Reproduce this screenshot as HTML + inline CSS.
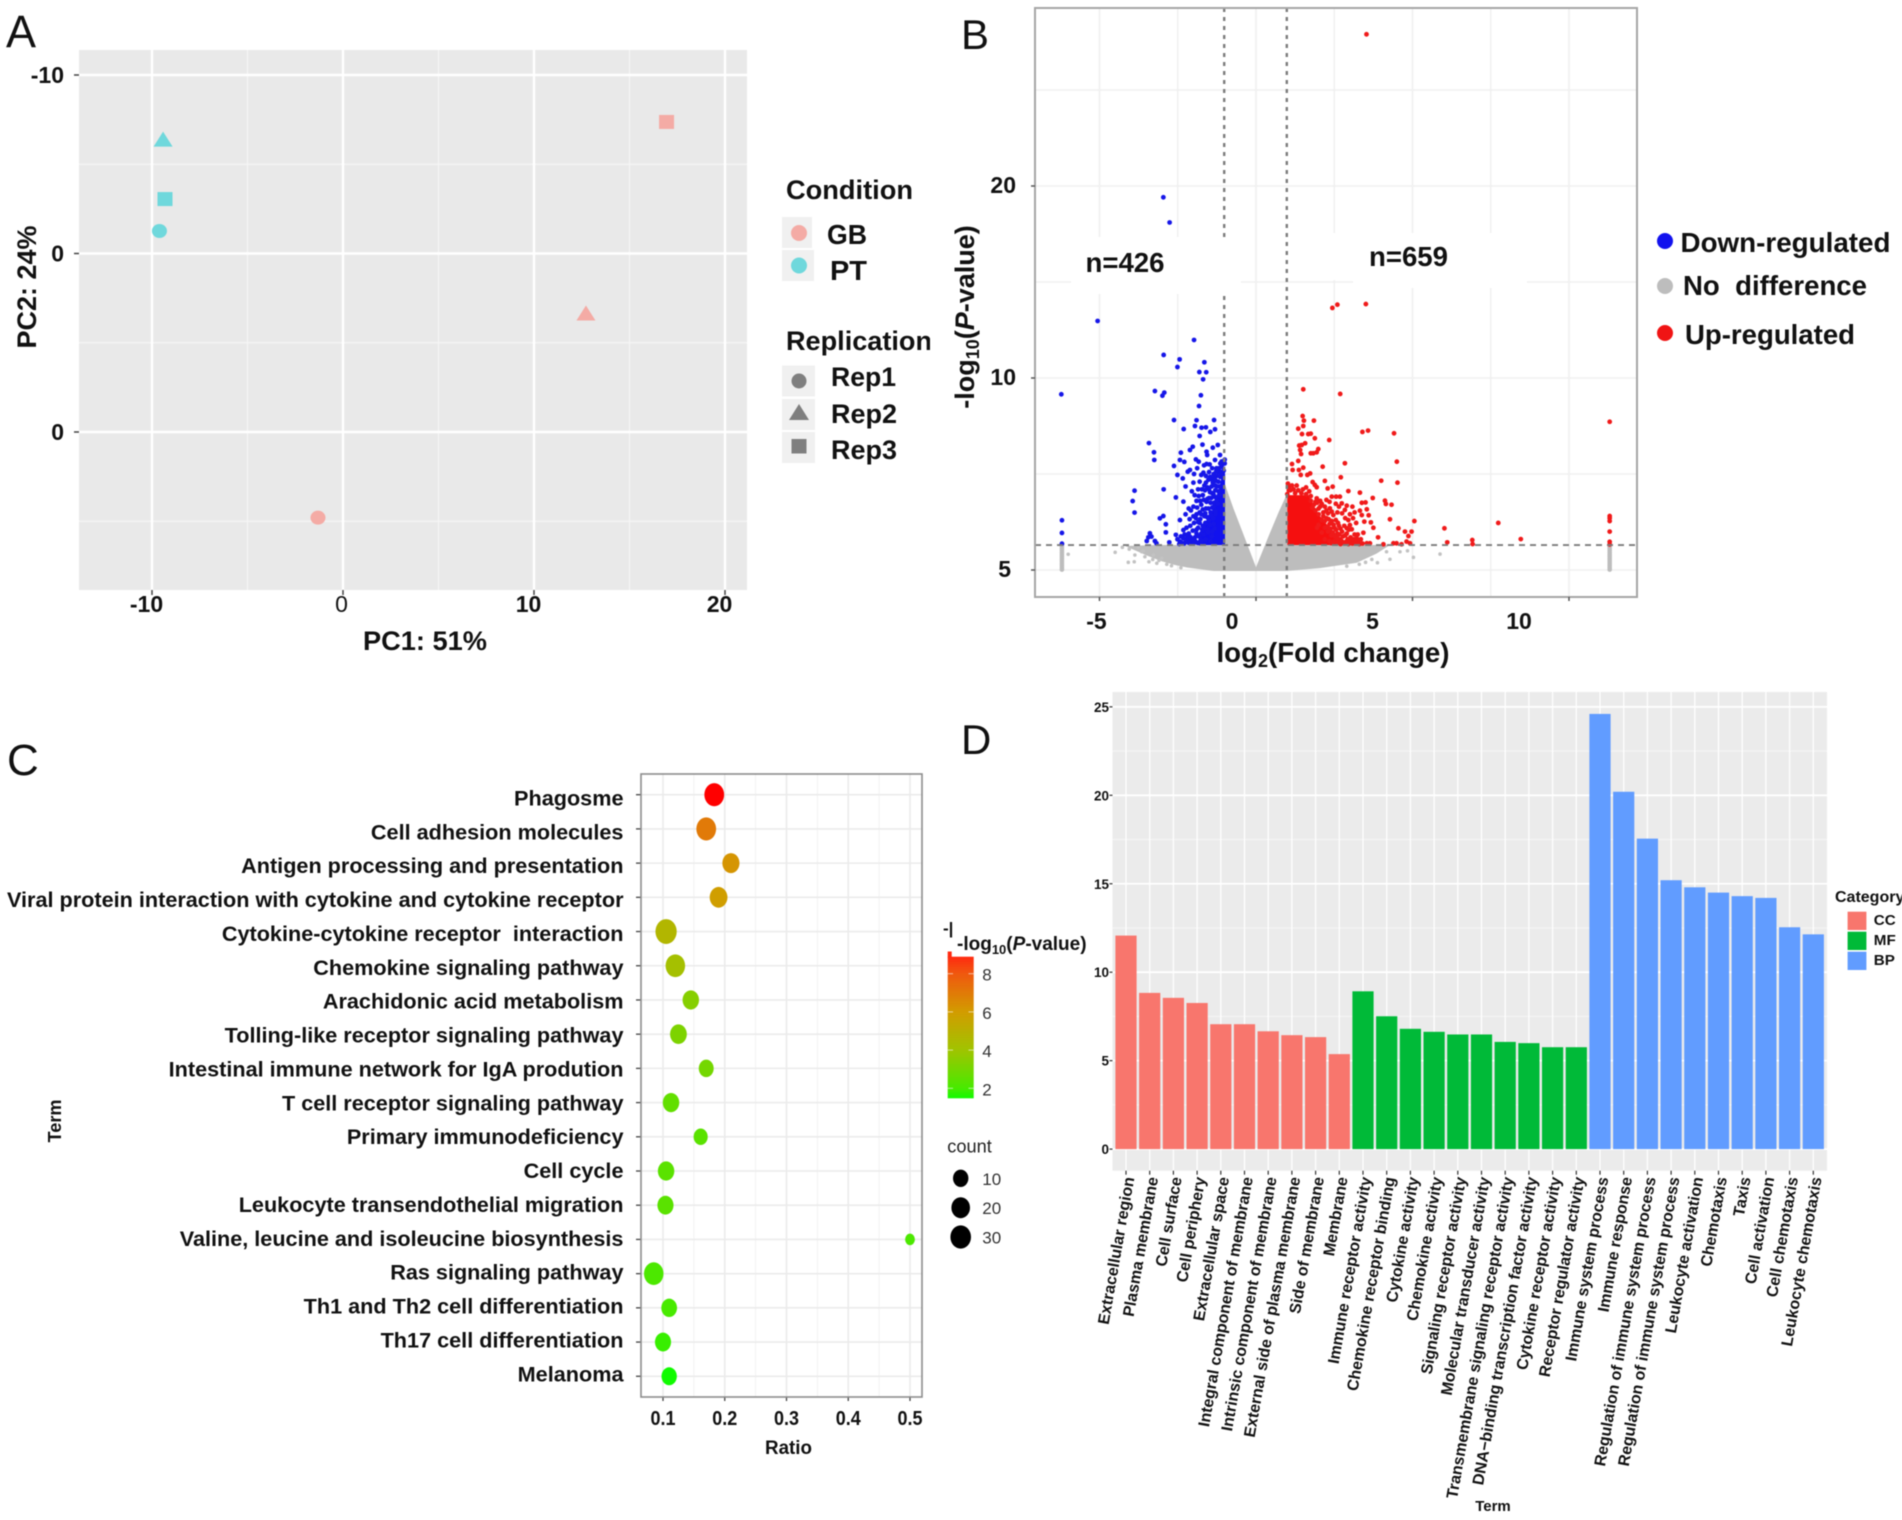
<!DOCTYPE html>
<html lang="en">
<head>
<meta charset="utf-8">
<title>Four panel transcriptomics figure</title>
<style>
html,body{margin:0;padding:0;background:#fff;}
svg{display:block;font-family:"Liberation Sans",sans-serif;filter:blur(0.55px);}
text{fill:#111;}
.b{font-weight:700;}
</style>
</head>
<body>
<svg id="fig" xmlns="http://www.w3.org/2000/svg" width="1902" height="1520" viewBox="0 0 1902 1520">
<defs>
<linearGradient id="cbar" x1="0" y1="0" x2="0" y2="1">
<stop offset="0" stop-color="#ff2a10"/><stop offset=".12" stop-color="#f0580f"/><stop offset=".39" stop-color="#d29c00"/><stop offset=".66" stop-color="#a0c400"/><stop offset=".93" stop-color="#48ea00"/><stop offset="1" stop-color="#10fb00"/>
</linearGradient>
</defs>
<rect width="1902" height="1520" fill="#fff"/>

<text x="6" y="47" font-size="45">A</text>
<text x="961" y="49" font-size="42">B</text>
<text x="7" y="775" font-size="44">C</text>
<text x="961" y="754" font-size="42">D</text>

<!-- Panel A -->
<g id="panelA"></g>
<g>
<text class="b" x="425" y="650" font-size="27" text-anchor="middle" textLength="124" lengthAdjust="spacingAndGlyphs">PC1: 51%</text>
<text class="b" transform="translate(36,287) rotate(-90)" font-size="27" text-anchor="middle" textLength="123" lengthAdjust="spacingAndGlyphs">PC2: 24%</text>
<text class="b" x="786" y="199" font-size="27" textLength="127" lengthAdjust="spacingAndGlyphs">Condition</text>
<rect x="782" y="217" width="30" height="31" fill="#f0f0f0"/>
<rect x="782" y="250" width="32" height="31" fill="#f0f0f0"/>
<ellipse cx="799" cy="233" rx="8" ry="8" fill="#f4aba5"/>
<ellipse cx="799" cy="265.5" rx="8" ry="8" fill="#6fd8dc"/>
<text class="b" x="827" y="244" font-size="28" textLength="40" lengthAdjust="spacingAndGlyphs">GB</text>
<text class="b" x="830" y="280" font-size="28" textLength="37" lengthAdjust="spacingAndGlyphs">PT</text>
<text class="b" x="786" y="350" font-size="27" textLength="146" lengthAdjust="spacingAndGlyphs">Replication</text>
<rect x="930" y="318" width="18" height="46" fill="#fff"/>
<rect x="782" y="365.5" width="33" height="31" fill="#f0f0f0"/>
<rect x="782" y="399" width="33" height="31" fill="#f0f0f0"/>
<rect x="782" y="432" width="33" height="31" fill="#f0f0f0"/>
<circle cx="799" cy="381" r="7.5" fill="#7f7f7f"/>
<polygon points="789,420 809,420 799,404" fill="#7f7f7f"/>
<rect x="791.5" y="439" width="15" height="14.5" fill="#7f7f7f"/>
<text class="b" x="831" y="386" font-size="27" textLength="65" lengthAdjust="spacingAndGlyphs">Rep1</text>
<text class="b" x="831" y="423" font-size="27" textLength="66" lengthAdjust="spacingAndGlyphs">Rep2</text>
<text class="b" x="831" y="459" font-size="27" textLength="66" lengthAdjust="spacingAndGlyphs">Rep3</text>
</g>

<!-- Panel B -->
<g id="panelB"></g>
<g>
<text class="b" x="1085.5" y="272" font-size="28" textLength="79" lengthAdjust="spacingAndGlyphs">n=426</text>
<text class="b" x="1369" y="266" font-size="28" textLength="79" lengthAdjust="spacingAndGlyphs">n=659</text>
<text class="b" x="1333" y="662" font-size="27.7" text-anchor="middle">log<tspan font-size="18" dy="5">2</tspan><tspan dy="-5">(Fold change)</tspan></text>
<text class="b" transform="translate(974,317) rotate(-90)" font-size="27" text-anchor="middle">-log<tspan font-size="18" dy="5">10</tspan><tspan dy="-5">(</tspan><tspan font-style="italic">P</tspan>-value)</text>
<circle cx="1665" cy="241" r="8" fill="#1212ee"/>
<circle cx="1665" cy="286" r="8" fill="#bdbdbd"/>
<circle cx="1665" cy="333" r="8" fill="#f01414"/>
<text class="b" x="1680.5" y="252" font-size="28" textLength="210" lengthAdjust="spacingAndGlyphs">Down-regulated</text>
<text class="b" x="1683" y="295" font-size="28" textLength="184" lengthAdjust="spacingAndGlyphs" xml:space="preserve">No  difference</text>
<text class="b" x="1685" y="344" font-size="28" textLength="170" lengthAdjust="spacingAndGlyphs">Up-regulated</text>
</g>

<!-- Panel C -->
<g id="panelC"></g>
<g>
<text class="b" x="788.5" y="1454" font-size="19" text-anchor="middle" textLength="47" lengthAdjust="spacingAndGlyphs">Ratio</text>
<text class="b" transform="translate(61,1121) rotate(-90)" font-size="18" text-anchor="middle" textLength="43" lengthAdjust="spacingAndGlyphs">Term</text>
<text class="b" x="943" y="934" font-size="17">-|</text>
<text x="957" y="950" font-size="19" style="font-weight:700">-log<tspan font-size="13" dy="4">10</tspan><tspan dy="-4">(</tspan><tspan font-style="italic">P</tspan>-value)</text>
<rect x="947.7" y="951.5" width="4" height="6" fill="#ff2a10"/>
<rect x="947.7" y="956.7" width="26" height="141.6" fill="url(#cbar)"/>
<text x="947.3" y="1152.5" font-size="18" fill="#222" style="fill:#222" textLength="44.5" lengthAdjust="spacingAndGlyphs">count</text>
</g>
<g id="legendC"></g>

<!-- Panel D -->
<g id="panelD"></g>
<g>
<text class="b" x="1493" y="1511" font-size="15" text-anchor="middle">Term</text>
<text class="b" x="1835" y="902" font-size="16">Category</text>
<rect x="1847.6" y="911.7" width="18.8" height="18.3" fill="#f8766d"/>
<rect x="1847.6" y="931.7" width="18.8" height="18.3" fill="#00ba38"/>
<rect x="1847.6" y="951.7" width="18.8" height="18.3" fill="#619cff"/>
<text class="b" x="1873.8" y="925" font-size="15.2">CC</text>
<text class="b" x="1873.8" y="945" font-size="15.2">MF</text>
<text class="b" x="1873.8" y="965" font-size="15.2">BP</text>
</g>
</svg>

<script>
/* ===== Panel A data ===== */
const pcaXTicks = [-10, 0, 10, 20];
const pcaXTickLabels = ["-10", "0", "10", "20"];
const pcaXMinor = [-5, 5, 15];
const pcaYTicks = [-10, 0, 10];
const pcaYTickLabels = ["-10", "0", "0"];
const pcaYMinor = [-5, 5, 15];
const pcaConditions = ["GB", "GB", "GB", "PT", "PT", "PT"];
const pcaReplicates = ["Rep1", "Rep2", "Rep3", "Rep1", "Rep2", "Rep3"];
const pc1Values = [-1.31, 12.72, 16.94, -9.61, -9.42, -9.32];
const pc2Values = [14.8, 3.33, -7.37, -1.26, -6.41, -3.05];

/* ===== Panel B data ===== */
const volcanoXMajor = [-5, 0, 5, 10];
const volcanoXMinor = [-2.5, 2.5, 7.5];
const volcanoYMajor = [0, 10, 20];
const volcanoYMinor = [5, 15, 25];
const volcanoXTickLabels = ["-5", "0", "5", "10"];
const volcanoYTickLabels = ["5", "10", "20"];
const foldCutoffs = [-1, 1];
const pCutoff = 1.3;
const grayMass = [[-0.99,4.45],[-0.72,3.2],[-0.4,1.85],[0,0.14],[0.4,1.75],[0.72,3.0],[1,4.0],[1,1.3],[3.4,1.3],[4.28,1.3],[3.85,0.85],[3.22,0.38],[2.04,0.1],[0.98,-0.05],[-1.36,-0.05],[-2.2,0.13],[-2.59,0.26],[-3.0,0.45],[-3.44,0.72],[-4.18,1.25],[-3.2,1.3],[-0.99,1.3]];
const blueMass = [[-0.99,1.3],[-0.99,5.45],[-1.12,4.7],[-1.22,3.9],[-1.4,3.1],[-1.62,2.5],[-1.9,1.3]];
const redMass = [[1.0,1.3],[1.0,3.9],[1.67,3.9],[2.0,2.9],[2.4,2.1],[2.9,1.3]];
const graySparse = [[-4.5,0.92],[-6.0,0.82],[-4.27,1.18],[-4.05,1.09],[-4.08,0.4],[-3.89,0.43],[-3.87,0.78],[-3.65,0.95],[-3.76,1.18],[-3.55,0.69],[-3.42,0.43],[-3.28,0.78],[-3.17,0.35],[-3.01,0.61],[5.03,0.66],[5.88,0.83],[4.28,0.56],[3.88,0.38],[4.6,0.95],[4.84,1.0],[4.17,0.95],[-2.85,0.3],[-2.7,0.22],[-2.4,0.12],[2.9,0.2],[3.3,0.3],[3.5,0.4],[3.7,0.55],[-3.6,1.0],[-3.3,0.55],[-3.1,0.5]];
const grayColumnX = [-6.2, 11.3];
const grayColumnY = [0.02,0.12,0.22,0.32,0.42,0.52,0.62,0.72,0.82,0.92,1.02,1.12,1.22,1.3];
const downPoints = [[-2.96,19.41],[-2.76,18.1],[-5.06,12.97],[-6.22,9.15],[-6.2,2.59],[-6.2,1.93],[-6.2,1.37],[-1.98,11.98],[-2.95,11.2],[-2.44,10.97],[-2.51,10.57],[-1.65,10.82],[-1.81,10.31],[-1.59,10.3],[-1.69,9.93],[-3.23,9.32],[-2.93,9.24],[-2.99,9.08],[-1.76,9.1],[-1.82,8.54],[-2.62,7.81],[-1.9,7.8],[-1.34,7.81],[-2.31,7.34],[-1.95,7.5],[-1.74,7.41],[-1.6,7.43],[-1.31,7.33],[-1.46,7.19],[-1.8,6.98],[-3.42,6.61],[-1.71,6.53],[-1.22,6.51],[-1.38,6.37],[-2.02,6.42],[-2.11,6.25],[-3.26,6.13],[-2.4,6.11],[-1.58,6.16],[-1.56,5.99],[-1.15,5.99],[-3.25,5.73],[-2.43,5.73],[-2.29,5.63],[-1.92,5.76],[-1.83,5.64],[-1.31,5.73],[-1.58,5.52],[-2.62,5.42],[-1.1,5.38],[-2.11,5.21],[-2.18,5.12],[-2.51,4.95],[-2.34,4.77],[-1.68,5.07],[-1.26,5.3],[-1.15,5.12],[-1.03,5.18],[-3.88,4.13],[-3.94,3.59],[-3.88,2.99],[-2.95,4.2],[-2.56,3.78],[-2.32,3.56],[-3.07,2.69],[-2.96,2.81],[-2.43,2.6],[-2.88,2.38],[-2.88,1.96],[-3.39,1.91],[-3.44,1.7],[-3.34,1.74],[-3.23,1.51],[-3.18,1.39],[-3.49,1.51],[-2.77,1.44],[-2.56,1.83],[-2.51,1.6],[-2.43,1.48],[-2.32,1.65],[-2.19,1.65],[-2.11,1.48],[-2.32,2.08],[-2.2,1.5],[-2.15,1.9],[-2.1,2.3],[-2.05,1.4],[-2.0,2.8],[-2.0,3.3],[-1.95,1.7],[-1.9,2.1],[-1.9,3.6],[-1.85,2.5],[-1.85,4.2],[-1.8,1.4],[-1.8,3.0],[-1.8,4.6],[-1.75,1.9],[-1.75,3.4],[-1.7,2.3],[-1.7,3.9],[-1.65,2.8],[-1.65,4.4],[-1.6,1.6],[-1.6,3.2],[-1.6,4.9],[-1.55,2.1],[-1.55,3.7],[-1.5,2.6],[-1.5,4.2],[-1.5,5.1],[-1.45,1.5],[-1.45,3.0],[-1.45,3.5],[-1.4,2.0],[-1.4,4.0],[-1.4,4.7],[-1.35,2.4],[-1.35,3.3],[-1.35,5.0],[-1.3,4.4],[-1.3,3.8],[-1.25,4.9],[-1.2,5.1],[-1.2,4.1],[-1.9,2.9],[-1.78,2.65],[-1.72,1.55],[-1.62,2.45],[-1.52,3.2],[-1.42,4.35],[-1.3,2.9],[-1.28,4.65],[-1.18,3.9],[-1.14,4.85],[-1.08,5.5],[-1.06,4.95],[-2.25,2.9],[-2.15,3.2],[-2.05,4.1],[-2.0,4.55],[-2.25,4.35],[-1.98,5.0],[-1.88,5.3],[-1.75,4.95],[-1.66,5.45],[-1.48,5.5],[-1.4,5.3],[-2.45,1.35],[-2.4,1.75],[-2.38,1.42],[-2.3,1.38],[-2.28,1.85],[-2.25,1.45],[-2.22,2.2],[-2.18,1.75],[-2.15,1.42],[-2.12,2.65],[-2.1,1.72],[-2.08,3.1],[-2.05,1.62],[-2.02,2.05],[-2.0,1.38],[-1.98,2.45],[-1.96,3.9],[-1.94,1.5],[-1.92,2.7],[-1.9,1.9],[-1.88,3.25],[-1.87,1.42],[-1.85,2.2],[-1.83,3.85],[-1.82,1.75],[-1.8,2.45],[-1.78,3.6],[-1.77,1.55],[-1.75,2.9],[-1.73,4.2],[-1.72,2.1],[-1.7,3.15],[-1.68,1.85],[-1.67,3.65],[-1.65,2.15],[-1.63,4.15],[-1.62,2.95],[-1.6,4.55],[-1.58,3.55],[-1.56,2.75],[-1.55,4.3],[-1.53,1.95],[-1.52,4.7],[-1.5,3.75],[-1.48,2.35],[-1.47,4.05],[-1.46,4.85],[-1.44,2.85],[-1.43,3.75],[-1.41,1.75],[-1.4,3.25],[-1.38,4.55],[-1.37,2.7],[-1.36,3.95],[-1.34,3.5],[-1.33,4.8],[-1.32,2.15],[-1.3,4.15],[-1.29,3.05],[-1.27,5.15],[-1.26,3.6],[-1.24,4.35],[-1.22,3.45],[-1.2,4.6],[-1.18,5.3],[-1.16,4.35],[-1.14,5.55],[-1.12,5.0],[-1.1,5.65],[-1.05,5.6],[-1.0,5.75],[-1.0,5.55]];
const upPoints = [[3.53,27.9],[2.44,13.65],[2.6,13.82],[3.51,13.85],[1.51,9.41],[2.69,9.17],[1.49,8.02],[1.53,7.78],[1.85,7.78],[1.35,7.36],[1.51,7.5],[1.47,7.08],[1.75,7.1],[1.67,7.08],[1.88,6.86],[2.34,6.77],[3.4,7.19],[3.58,7.26],[4.41,7.12],[1.38,6.48],[1.46,6.51],[1.57,6.6],[1.41,6.25],[1.44,6.04],[1.75,6.08],[1.83,6.08],[1.94,6.13],[1.99,6.3],[1.15,5.52],[1.35,5.68],[2.84,5.56],[2.13,5.38],[4.5,5.64],[1.17,5.21],[1.37,5.21],[1.51,5.33],[1.43,4.95],[1.64,4.95],[1.73,5.03],[2.71,4.83],[2.45,4.34],[2.2,4.64],[2.29,4.25],[4.0,4.65],[4.52,4.55],[1.81,4.58],[1.88,4.43],[1.94,4.31],[2.95,4.11],[3.32,4.03],[3.73,3.75],[1.94,3.73],[2.42,3.82],[2.56,3.82],[2.68,3.82],[4.12,3.61],[4.15,3.44],[4.33,3.4],[3.38,3.5],[3.5,3.52],[2.74,3.47],[3.08,3.3],[2.84,3.13],[3.32,3.09],[3.54,3.16],[2.36,3.21],[2.42,3.04],[2.47,2.86],[4.28,2.64],[5.06,2.55],[3.46,2.52],[3.67,2.48],[3.38,2.86],[4.55,2.17],[4.76,2.0],[4.97,2.0],[4.87,1.77],[6.02,2.17],[7.74,2.45],[8.46,1.61],[6.11,1.44],[6.91,1.56],[6.92,1.35],[3.43,1.94],[3.0,2.34],[3.06,2.12],[2.9,2.17],[3.22,1.65],[3.27,1.48],[3.54,1.39],[3.64,1.39],[4.07,1.34],[4.39,1.39],[4.49,1.39],[4.65,1.34],[4.81,1.48],[4.92,1.39],[11.3,7.72],[11.3,2.81],[11.3,2.7],[11.3,2.55],[11.3,2.0],[11.3,1.47],[11.3,1.33],[1.75,3.6],[1.85,3.4],[1.9,3.1],[2.0,2.9],[2.05,3.3],[2.1,2.6],[2.15,3.0],[2.2,2.2],[2.25,2.7],[2.3,2.0],[2.35,2.4],[2.4,1.8],[2.5,2.2],[2.5,1.5],[2.55,2.6],[2.6,1.9],[2.65,2.3],[2.7,1.6],[2.75,2.0],[2.8,1.4],[2.85,1.8],[2.9,1.5],[2.95,1.35],[3.05,1.6],[3.1,1.4],[3.15,1.85],[2.2,3.3],[2.3,2.95],[2.05,3.6],[2.6,3.0],[2.85,2.7],[3.0,2.9],[1.6,3.95],[1.45,4.0],[1.25,4.0],[1.1,4.15],[1.05,4.3],[1.15,4.4],[1.3,4.4],[1.5,4.2],[1.7,4.1],[1.0,3.95],[1.9,3.55],[2.0,2.35],[2.6,1.45],[2.7,1.35],[2.35,1.5],[2.2,1.6],[2.1,1.95],[2.4,1.4],[1.95,2.2],[1.02,4.5],[1.05,4.15],[1.2,4.2],[1.35,4.15],[1.6,4.3],[1.75,3.85],[1.8,3.25],[1.95,3.5],[2.0,3.2],[2.1,3.45],[2.15,2.8],[2.2,2.55],[2.25,3.1],[2.28,2.25],[2.32,2.65],[2.38,2.15],[2.42,2.55],[2.45,1.95],[2.48,2.35],[2.52,1.75],[2.56,2.1],[2.6,1.65],[2.62,2.45],[2.66,1.85],[2.7,2.15],[2.74,1.5],[2.78,1.75],[2.82,2.3],[2.86,1.45],[2.9,1.9],[2.93,1.6],[2.97,2.1],[3.0,1.45],[3.02,1.7],[3.08,1.38],[3.12,1.6],[3.18,1.42],[3.25,1.85],[3.3,1.35],[3.35,1.6],[3.4,1.38],[2.55,3.45],[2.75,2.95],[2.9,3.35],[3.1,2.7],[3.2,2.45],[2.35,3.55],[2.65,3.3],[2.25,3.65],[2.95,2.6],[3.15,3.0],[3.6,2.85],[3.75,2.2],[3.9,1.7]];

/* ===== Panel C data ===== */
const pathwayTerms = ["Phagosme","Cell adhesion molecules","Antigen processing and presentation","Viral protein interaction with cytokine and cytokine receptor","Cytokine-cytokine receptor  interaction","Chemokine signaling pathway","Arachidonic acid metabolism","Tolling-like receptor signaling pathway","Intestinal immune network for IgA prodution","T cell receptor signaling pathway","Primary immunodeficiency","Cell cycle","Leukocyte transendothelial migration","Valine, leucine and isoleucine biosynthesis","Ras signaling pathway","Th1 and Th2 cell differentiation","Th17 cell differentiation","Melanoma"];
const pathwayRatio = [0.183,0.17,0.21,0.19,0.105,0.12,0.145,0.125,0.17,0.113,0.161,0.105,0.104,0.5,0.085,0.11,0.1,0.11];
const pathwayCount = [26,26,17,19,32,25,15,16,11,15,9,15,14,2,25,13,14,12];
const pathwayLogP = [9,7,6.2,5.9,4.7,4.2,3.4,3.2,3.0,2.6,2.4,2.4,2.4,2.1,2.1,2.0,1.8,1.3];
const ratioTicks = [0.1,0.2,0.3,0.4,0.5];
const ratioMinor = [0.15,0.25,0.35,0.45];
const colorLegendTicks = [8,6,4,2];
const sizeLegendCounts = [10,20,30];

/* ===== Panel D data ===== */
const goTerms = ["Extracellular region","Plasma membrane","Cell surface","Cell periphery","Extracellular space","Integral component of membrane","Intrinsic component of membrane","External side of plasma membrane","Side of membrane","Membrane","Immune receptor activity","Chemokine receptor binding","Cytokine activity","Chemokine activity","Signaling receptor activity","Molecular transducer activity","Transmembrane signaling receptor activity","DNA\u2212binding transcription factor activity","Cytokine receptor activity","Receptor regulator activity","Immune system process","Immune response","Regulation of immune system process","Regulation of immune system process","Leukocyte activation","Chemotaxis","Taxis","Cell activation","Cell chemotaxis","Leukocyte chemotaxis"];
const goValues = [12.07,8.83,8.55,8.26,7.06,7.06,6.66,6.44,6.33,5.37,8.92,7.51,6.8,6.63,6.48,6.48,6.06,5.99,5.76,5.76,24.6,20.2,17.55,15.2,14.8,14.5,14.3,14.2,12.54,12.14];
const goCategory = ["CC","CC","CC","CC","CC","CC","CC","CC","CC","CC","MF","MF","MF","MF","MF","MF","MF","MF","MF","MF","BP","BP","BP","BP","BP","BP","BP","BP","BP","BP"];
const goYTicks = [0,5,10,15,20,25];
const goYMinor = [2.5,7.5,12.5,17.5,22.5];

/* ===== helpers ===== */
const NS = "http://www.w3.org/2000/svg";
function mk(tag, attrs, parent){
  const e = document.createElementNS(NS, tag);
  for (const k in attrs) e.setAttribute(k, attrs[k]);
  parent.appendChild(e);
  return e;
}
function mkText(str, attrs, parent){
  const e = mk("text", attrs, parent);
  e.textContent = str;
  return e;
}
function slug(s){ return s.toLowerCase().replace(/[^a-z0-9]+/g, "-").replace(/^-|-$/g, ""); }

/* ===== Panel A ===== */
(function(){
  const g = document.getElementById("panelA");
  const xA = v => 343 + v * 19.1;
  const yA = v => 253.5 + v * 17.85;
  const bg = mk("rect", {x:79, y:50, width:668, height:540, fill:"#e9e9e9"}, g);
  
  
  pcaXMinor.forEach(v => {
    const l = mk("line", {x1:xA(v), x2:xA(v), y1:50, y2:590, stroke:"#f6f6f6", "stroke-width":1.2}, g);
    
    
  });
  pcaYMinor.forEach(v => {
    const l = mk("line", {x1:79, x2:747, y1:yA(v), y2:yA(v), stroke:"#f6f6f6", "stroke-width":1.2}, g);
    
    
  });
  pcaXTicks.forEach((v, i) => {
    const l = mk("line", {x1:xA(v), x2:xA(v), y1:50, y2:590, stroke:"#fff", "stroke-width":2.4}, g);
    
    
    const t = mk("line", {x1:xA(v), x2:xA(v), y1:590, y2:595, stroke:"#444", "stroke-width":1.5}, g);
    
    
    const s = mkText(pcaXTickLabels[i], {x:xA(v)-(v===0?1.5:5.5), y:612, "font-size":23, "text-anchor":"middle", "font-weight":v===0?400:700}, g);
    
    
  });
  pcaYTicks.forEach((v, i) => {
    const l = mk("line", {x1:79, x2:747, y1:yA(v), y2:yA(v), stroke:"#fff", "stroke-width":2.4}, g);
    
    
    const t = mk("line", {x1:74, x2:79, y1:yA(v), y2:yA(v), stroke:"#444", "stroke-width":1.5}, g);
    
    
    const s = mkText(pcaYTickLabels[i], {x:64, y:yA(v)+8, "font-size":23, "text-anchor":"end", "font-weight":700}, g);
    
    
  });
  pc1Values.forEach((v, i) => {
    const cx = xA(v), cy = yA(pc2Values[i]);
    const fill = pcaConditions[i] === "GB" ? "#f4aba5" : "#6fd8dc";
    let m;
    if (pcaReplicates[i] === "Rep1") m = mk("ellipse", {cx:cx, cy:cy, rx:7.5, ry:7, fill:fill}, g);
    else if (pcaReplicates[i] === "Rep2") m = mk("polygon", {points:`${cx-9.5},${cy+7.5} ${cx+9.5},${cy+7.5} ${cx},${cy-7.5}`, fill:fill}, g);
    else m = mk("rect", {x:cx-7.5, y:cy-7, width:15, height:14, fill:fill}, g);
    
    
  });
})();

/* ===== Panel B ===== */
(function(){
  const g = document.getElementById("panelB");
  const xB = v => 1256 + v * 31.3;
  const yB = v => 570 - v * 19.2;
  const L = 1035, R = 1637, T = 8, B = 597;
  const bg = mk("rect", {x:L, y:T, width:R-L, height:B-T, fill:"#fff"}, g);
  
  
  volcanoXMinor.concat(volcanoXMajor).forEach(v => {
    const l = mk("line", {x1:xB(v), x2:xB(v), y1:T, y2:B, stroke:"#f0f0f0", "stroke-width":1.6}, g);
    
    
  });
  volcanoYMinor.concat(volcanoYMajor).forEach(v => {
    const l = mk("line", {x1:L, x2:R, y1:yB(v), y2:yB(v), stroke:"#f0f0f0", "stroke-width":1.6}, g);
    
    
  });
  const poly = pts => pts.map(p => xB(p[0]) + "," + yB(p[1])).join(" ");
  const mg = mk("polygon", {points:poly(grayMass), fill:"#bdbdbd"}, g);
  
  
  graySparse.forEach(p => {
    const c = mk("circle", {cx:xB(p[0]), cy:yB(p[1]), r:1.8, fill:"#c2c2c2"}, g);
    
    
  });
  grayColumnX.forEach(x => grayColumnY.forEach(y => {
    const c = mk("circle", {cx:xB(x), cy:yB(y), r:2.3, fill:"#bdbdbd"}, g);
    
    
  }));
  const mb = mk("polygon", {points:poly(blueMass), fill:"#1212ee"}, g);
  
  
  const mr = mk("polygon", {points:poly(redMass), fill:"#f50f0f"}, g);
  
  
  downPoints.forEach(p => {
    const c = mk("circle", {cx:xB(p[0]), cy:yB(p[1]), r:2.4, fill:"#1616e8"}, g);
    
    
  });
  upPoints.forEach(p => {
    const c = mk("circle", {cx:xB(p[0]), cy:yB(p[1]), r:2.4, fill:"#f01a1a"}, g);
    
    
  });
  foldCutoffs.forEach(v => {
    const l = mk("line", {x1:xB(v)-0.5, x2:xB(v)-0.5, y1:T, y2:B, stroke:"#7c7c7c", "stroke-width":2.4, "stroke-dasharray":"4 5"}, g);
    
    
  });
  const hl = mk("line", {x1:L, x2:R, y1:yB(pCutoff), y2:yB(pCutoff), stroke:"#7c7c7c", "stroke-width":1.8, "stroke-dasharray":"6 5"}, g);
  
  
  const m1 = mk("rect", {x:1071, y:237, width:170, height:57, fill:"#fff"}, g);
  
  
  const m2 = mk("rect", {x:1353, y:233, width:174, height:55, fill:"#fff"}, g);
  
  
  const m3 = mk("rect", {x:1325, y:233, width:28, height:47, fill:"#fff"}, g);
  
  
  const fr = mk("rect", {x:L, y:T, width:R-L, height:B-T, fill:"none", stroke:"#a6a6a6", "stroke-width":2}, g);
  
  
  const xLabelShift = [-3, -24, -40, -50];
  volcanoXMajor.forEach((v, i) => {
    const t = mk("line", {x1:xB(v), x2:xB(v), y1:B, y2:B+4, stroke:"#555", "stroke-width":1.5}, g);
    
    
    const s = mkText(volcanoXTickLabels[i], {x:xB(v)+xLabelShift[i], y:629, "font-size":23, "text-anchor":"middle", "font-weight":700}, g);
    
    
  });
  volcanoYMajor.forEach((v, i) => {
    const t = mk("line", {x1:L-4, x2:L, y1:yB(v), y2:yB(v), stroke:"#555", "stroke-width":1.5}, g);
    
    
    const s = mkText(volcanoYTickLabels[i], {x:i === 0 ? 1011 : 1016, y:yB(v)+7, "font-size":23, "text-anchor":"end", "font-weight":700}, g);
    
    
  });
})();

/* ===== Panel C ===== */
(function(){
  const g = document.getElementById("panelC");
  const xC = r => 663 + (r - 0.1) * 617.5;
  const yC = i => 794.7 + i * 34.21;
  const yLabel = i => 805.5 + i * 33.87;
  const L = 641, R = 922, T = 774, B = 1397;
  const colorValues = [1.3, 2, 4, 6, 8, 9];
  const colorHex = [[16,251,0],[72,234,0],[160,196,0],[210,156,0],[240,88,15],[255,0,0]];
  function colorOf(v){
    for (let i = 1; i < colorValues.length; i++){
      if (v <= colorValues[i]){
        const t = (v - colorValues[i-1]) / (colorValues[i] - colorValues[i-1]);
        const c = colorHex[i].map((h, k) => Math.round(colorHex[i-1][k] + (h - colorHex[i-1][k]) * Math.max(0, t)));
        return "rgb(" + c.join(",") + ")";
      }
    }
    return "rgb(255,0,0)";
  }
  const sizeOf = c => 3 + 1.35 * Math.sqrt(c);

  ratioMinor.forEach(r => {
    const l = mk("line", {x1:xC(r), x2:xC(r), y1:T, y2:B, stroke:"#f2f2f2", "stroke-width":1}, g);
    
    
  });
  ratioTicks.forEach(r => {
    const l = mk("line", {x1:xC(r), x2:xC(r), y1:T, y2:B, stroke:"#ebebeb", "stroke-width":1.6}, g);
    
    
    const t = mk("line", {x1:xC(r), x2:xC(r), y1:B, y2:B+4, stroke:"#444", "stroke-width":1.3}, g);
    
    
    const s = mkText(r.toFixed(1), {x:xC(r), y:1425, "font-size":20, "text-anchor":"middle", "font-weight":700, textLength:25, lengthAdjust:"spacingAndGlyphs"}, g);
    
    
  });
  const labels = [];
  pathwayTerms.forEach((term, i) => {
    const l = mk("line", {x1:L, x2:R, y1:yC(i), y2:yC(i), stroke:"#ebebeb", "stroke-width":1.6}, g);
    
    
    const t = mk("line", {x1:L-5, x2:L, y1:yC(i), y2:yC(i), stroke:"#444", "stroke-width":1.3}, g);
    
    
    const s = mkText(term, {x:623.5, y:yLabel(i), "font-size":21, "text-anchor":"end", "font-weight":700, style:"white-space:pre"}, g);
    
    
    labels.push(s);
  });
  const longest = Math.max.apply(null, labels.map(s => s.getComputedTextLength()));
  const fit = 616.5 / longest;
  labels.forEach(s => {
    s.setAttribute("textLength", s.getComputedTextLength() * fit);
    s.setAttribute("lengthAdjust", "spacingAndGlyphs");
  });
  const fr = mk("rect", {x:L, y:T, width:R-L, height:B-T, fill:"none", stroke:"#8c8c8c", "stroke-width":1.6}, g);
  
  
  pathwayRatio.forEach((r, i) => {
    const rx = sizeOf(pathwayCount[i]);
    const c = mk("ellipse", {cx:xC(r), cy:yC(i), rx:rx, ry:rx*1.17, fill:colorOf(pathwayLogP[i])}, g);
    
    
  });

  const lg = document.getElementById("legendC");
  const yBar = v => 1088.3 - (v - 2) * 19.1;
  colorLegendTicks.forEach(v => {
    const a = mk("line", {x1:947.7, x2:953, y1:yBar(v), y2:yBar(v), stroke:"#fff", "stroke-opacity":.6, "stroke-width":1}, lg);
    
    
    const b = mk("line", {x1:968.5, x2:973.7, y1:yBar(v), y2:yBar(v), stroke:"#fff", "stroke-opacity":.6, "stroke-width":1}, lg);
    
    
    const s = mkText(String(v), {x:982.3, y:yBar(v)+7, "font-size":17, style:"fill:#333"}, lg);
    
    
  });
  const legendRx = [7.7, 9.3, 10.3];
  const legendCy = [1178.3, 1207.7, 1237];
  sizeLegendCounts.forEach((v, i) => {
    const c = mk("ellipse", {cx:960.7, cy:legendCy[i], rx:legendRx[i], ry:legendRx[i]*1.13, fill:"#000"}, lg);
    
    
    const s = mkText(String(v), {x:982.3, y:legendCy[i]+6.5, "font-size":17, style:"fill:#333"}, lg);
    
    
  });
})();

/* ===== Panel D ===== */
(function(){
  const g = document.getElementById("panelD");
  const xD = i => 1126 + i * 23.7;
  const yD = v => 1149.1 - v * 17.69;
  const L = 1112.5, R = 1827, T = 692, B = 1170.7;
  const colors = {CC:"#f8766d", MF:"#00ba38", BP:"#619cff"};
  const bg = mk("rect", {x:L, y:T, width:R-L, height:B-T, fill:"#ebebeb"}, g);
  
  
  goYMinor.forEach(v => {
    const l = mk("line", {x1:L, x2:R, y1:yD(v), y2:yD(v), stroke:"#f6f6f6", "stroke-width":1}, g);
    
    
  });
  goYTicks.forEach(v => {
    const l = mk("line", {x1:L, x2:R, y1:yD(v), y2:yD(v), stroke:"#fff", "stroke-width":1.8}, g);
    
    
    const t = mk("line", {x1:L-3, x2:L, y1:yD(v), y2:yD(v), stroke:"#333", "stroke-width":1.2}, g);
    
    
    const s = mkText(String(v), {x:L-3.5, y:yD(v)+5, "font-size":13.5, "text-anchor":"end", "font-weight":700}, g);
    
    
  });
  goTerms.forEach((term, i) => {
    const l = mk("line", {x1:xD(i), x2:xD(i), y1:T, y2:B, stroke:"#fff", "stroke-width":1.3}, g);
    
    
    const t = mk("line", {x1:xD(i), x2:xD(i), y1:B, y2:B+4, stroke:"#333", "stroke-width":1.2}, g);
    
    
  });
  goValues.forEach((v, i) => {
    const b = mk("rect", {x:xD(i)-10.6, y:yD(v), width:21.2, height:yD(0)-yD(v), fill:colors[goCategory[i]]}, g);
    
    
  });
  goTerms.forEach((term, i) => {
    const s = mkText(term, {transform:`translate(${xD(i)+3},1177) rotate(-80)`, x:0, y:5.5, "font-size":16, "text-anchor":"end", "font-weight":700}, g);
    
    
  });
})();
</script>
</body>
</html>
